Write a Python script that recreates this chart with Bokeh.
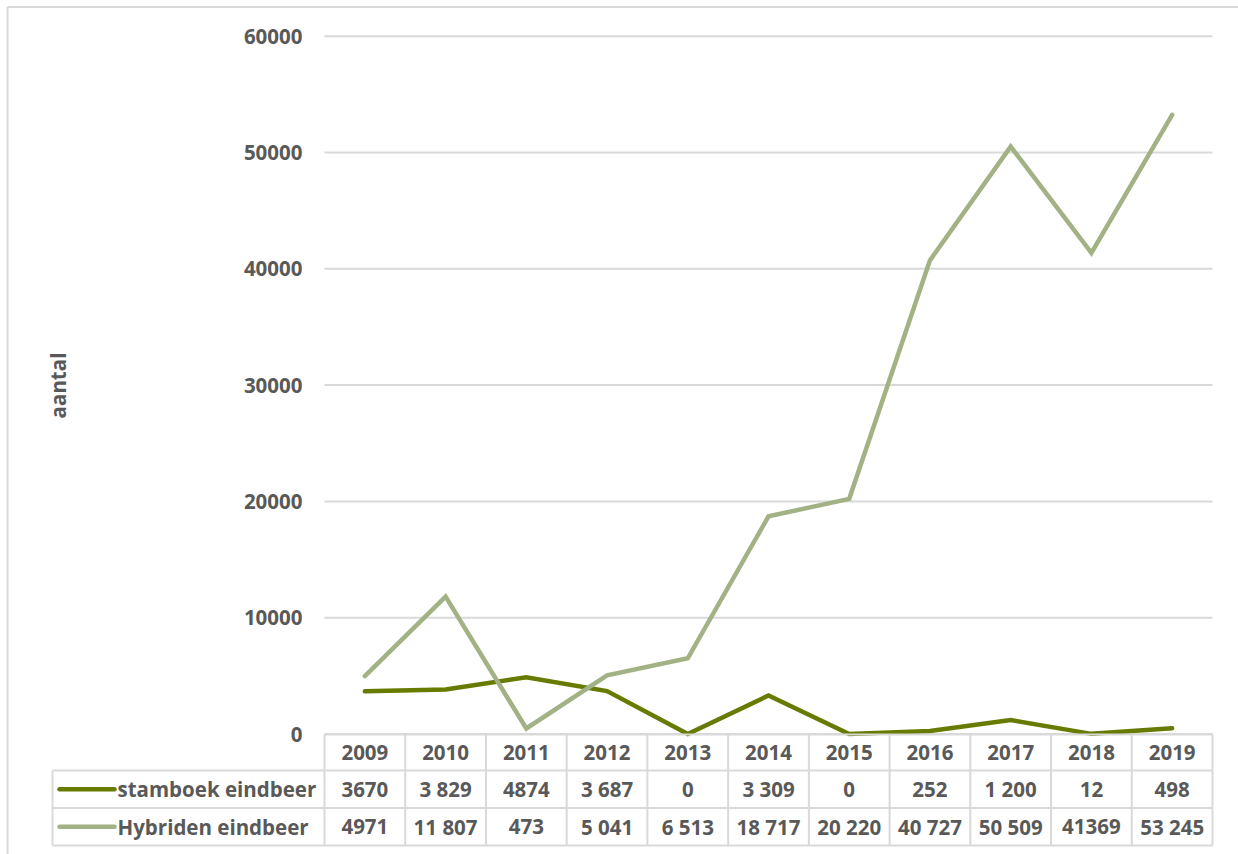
import math

from bokeh.core.properties import value
from bokeh.embed import file_html
from bokeh.models import Range1d
from bokeh.plotting import figure
from bokeh.resources import INLINE

# --- data ---------------------------------------------------------------
years = ["2009", "2010", "2011", "2012", "2013", "2014", "2015", "2016", "2017", "2018", "2019"]
series_names = ["stamboek eindbeer", "Hybriden eindbeer"]
stamboek_labels = ["3670", "3 829", "4874", "3 687", "0", "3 309", "0", "252", "1 200", "12", "498"]
hybriden_labels = ["4971", "11 807", "473", "5 041", "6 513", "18 717", "20 220", "40 727", "50 509", "41369", "53 245"]
y_ticks = [0, 10000, 20000, 30000, 40000, 50000, 60000]
y_title = "aantal"

# numeric values are read straight from the table strings
stamboek = [int(s.replace(" ", "")) for s in stamboek_labels]
hybriden = [int(s.replace(" ", "")) for s in hybriden_labels]
year_x = [int(y) for y in years]

# --- layout (pixels) ----------------------------------------------------
W, H = 1238, 854
PLOT_L, PLOT_R = 324, 1212          # plot area / table year columns
PLOT_T, PLOT_B = 35.7, 733.5        # y of top tick and of zero
TABLE_ROWS = [734, 770, 807.5, 845]  # header top, row separators, bottom
NAME_COL_L = 52

DARK = "#667b00"
LIGHT = "#a2b285"
GRID = "#d9d9d9"
TEXT = "#595959"
FONT = value("Open Sans")
FS = "20.5px"

px_per_year = (PLOT_R - PLOT_L) / len(years)
x_first = year_x[0] - 0.5
x_last = year_x[-1] + 0.5
px_per_unit = (PLOT_B - PLOT_T) / y_ticks[-1]

p = figure(
    width=W, height=H,
    x_range=Range1d(x_first - PLOT_L / px_per_year, x_last + (W - PLOT_R) / px_per_year),
    y_range=Range1d(-(H - PLOT_B) / px_per_unit, y_ticks[-1] + PLOT_T / px_per_unit),
    x_axis_type=None, y_axis_type=None,
    toolbar_location=None, output_backend="svg",
    min_border=0, min_border_left=0, min_border_right=0,
    min_border_top=0, min_border_bottom=0,
)
p.outline_line_color = None
p.background_fill_color = "white"
p.border_fill_color = "white"
p.xgrid.visible = False
p.ygrid.visible = False

# screen-like ranges for frame, table and labels
p.extra_x_ranges = {"px": Range1d(0, W)}
p.extra_y_ranges = {"px": Range1d(H, 0)}

text_style = dict(text_font=FONT, text_font_size=FS, text_font_style="bold", text_color=TEXT)

# outer chart border
p.segment(x0=[7, 7], y0=[6.5, 6.5], x1=[W, 7], y1=[6.5, H],
          x_range_name="px", y_range_name="px", line_color=GRID, line_width=2)

# horizontal gridlines
p.segment(x0=[x_first] * len(y_ticks), y0=y_ticks,
          x1=[x_last] * len(y_ticks), y1=y_ticks,
          line_color=GRID, line_width=2)

# y tick labels and axis title
p.text(x=[302] * len(y_ticks), y=y_ticks, text=[str(t) for t in y_ticks],
       x_range_name="px", text_align="right", text_baseline="middle", **text_style)
p.text(x=[57], y=[385], text=[y_title], angle=math.pi / 2,
       x_range_name="px", y_range_name="px",
       text_align="center", text_baseline="middle", **text_style)

# series lines
p.line(year_x, stamboek, line_color=DARK, line_width=4.5, line_cap="round", line_join="miter")
p.line(year_x, hybriden, line_color=LIGHT, line_width=4.5, line_cap="round", line_join="miter")

# --- data table ---------------------------------------------------------
top, r1, r2, bottom = TABLE_ROWS
# horizontal rules across the year columns
p.segment(x0=[x_first] * 4, y0=TABLE_ROWS, x1=[x_last] * 4, y1=TABLE_ROWS,
          y_range_name="px", line_color=GRID, line_width=2)
# horizontal rules across the series-name column
p.segment(x0=[NAME_COL_L] * 3, y0=[r1, r2, bottom], x1=[PLOT_L] * 3, y1=[r1, r2, bottom],
          x_range_name="px", y_range_name="px", line_color=GRID, line_width=2)
# vertical rules between years
edges = [x_first + i for i in range(len(years) + 1)]
p.segment(x0=edges, y0=[top] * len(edges), x1=edges, y1=[bottom] * len(edges),
          y_range_name="px", line_color=GRID, line_width=2)
p.segment(x0=[NAME_COL_L], y0=[r1], x1=[NAME_COL_L], y1=[bottom],
          x_range_name="px", y_range_name="px", line_color=GRID, line_width=2)

row_mid = [(top + r1) / 2, (r1 + r2) / 2, (r2 + bottom) / 2]

for labels, mid in zip([years, stamboek_labels, hybriden_labels], row_mid):
    p.text(x=year_x, y=[mid] * len(years), text=labels, y_range_name="px",
           text_align="center", text_baseline="middle", **text_style)

# legend keys and series names
p.segment(x0=[59, 59], y0=row_mid[1:], x1=[114, 114], y1=row_mid[1:],
          x_range_name="px", y_range_name="px",
          line_color=[DARK, LIGHT], line_width=4.5, line_cap="round")
p.text(x=[117, 117], y=row_mid[1:], text=series_names,
       x_range_name="px", y_range_name="px",
       text_align="left", text_baseline="middle", **text_style)

open("out.html", "w").write(file_html(p, INLINE))
